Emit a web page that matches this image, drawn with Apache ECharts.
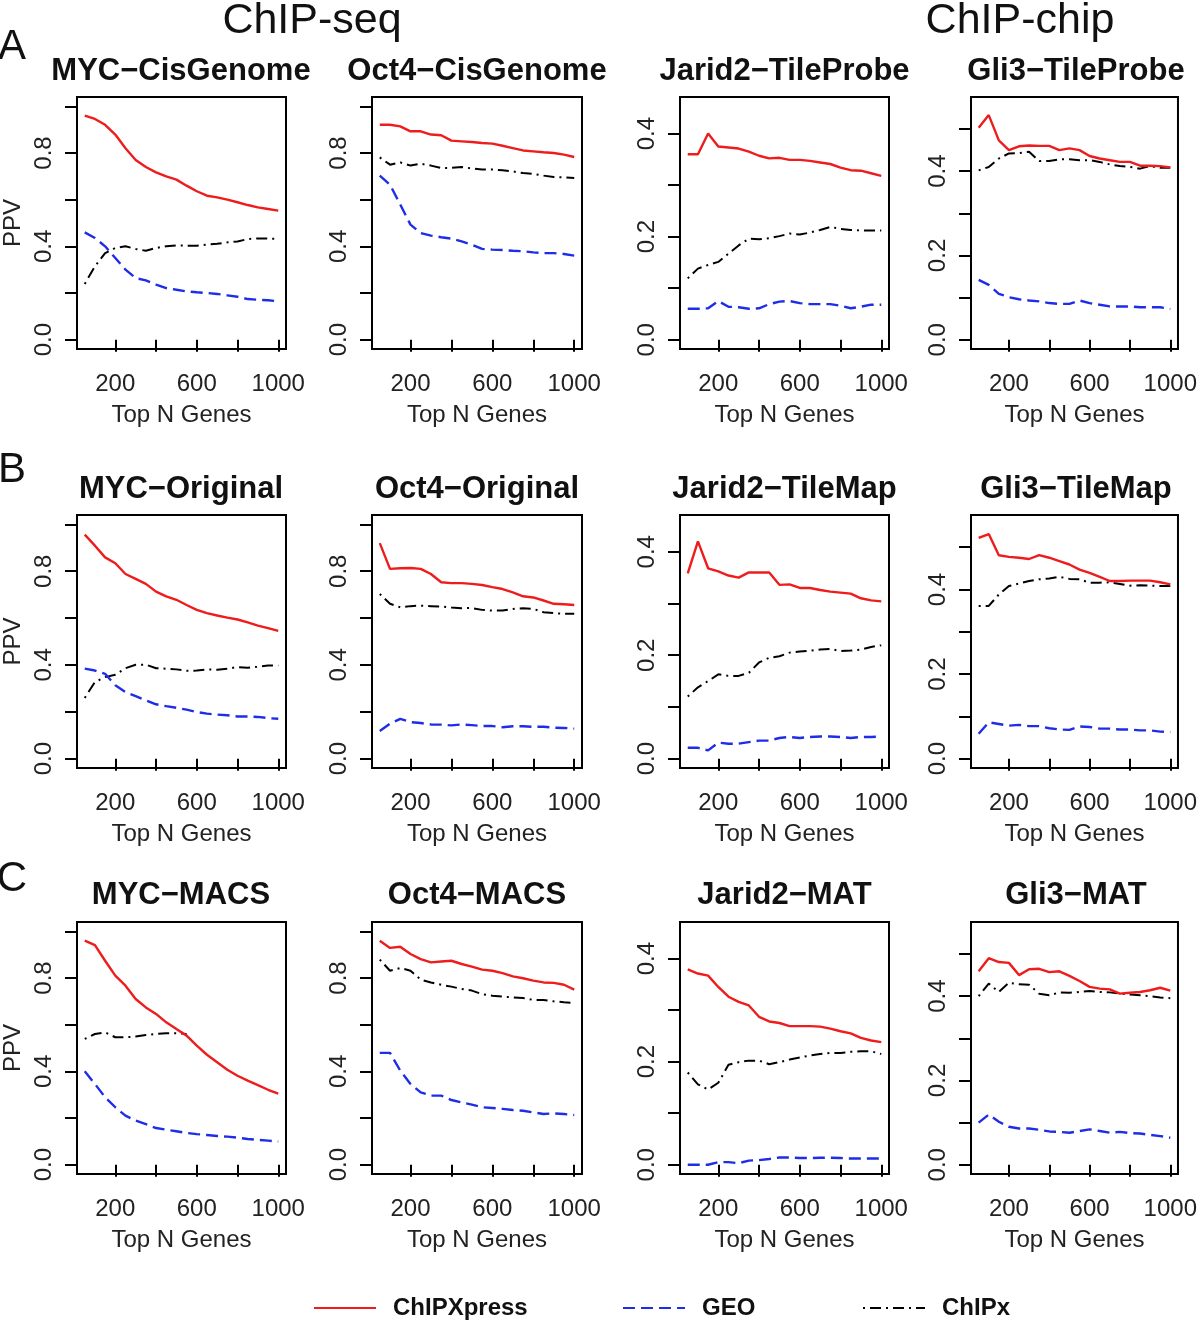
<!DOCTYPE html>
<html>
<head>
<meta charset="utf-8">
<script src="https://cdn.jsdelivr.net/npm/echarts@6/dist/echarts.min.js"></script>
<style>
html,body{margin:0;padding:0;background:#fff;}
#chart{width:1200px;height:1321px;}
</style>
</head>
<body>
<div id="chart"></div>
<script>
// ---------- DATA ----------
const topN = [50,100,150,200,250,300,350,400,450,500,550,600,650,700,750,800,850,900,950,1000];
const xTicks = [200,400,600,800,1000];
const xTickLabels = [200,600,1000];
const seriesNames = ['ChIPXpress','GEO','ChIPx'];
const panelTitles = [
  'MYC\u2212CisGenome','Oct4\u2212CisGenome','Jarid2\u2212TileProbe','Gli3\u2212TileProbe',
  'MYC\u2212Original','Oct4\u2212Original','Jarid2\u2212TileMap','Gli3\u2212TileMap',
  'MYC\u2212MACS','Oct4\u2212MACS','Jarid2\u2212MAT','Gli3\u2212MAT'
];
const rowLetters = ['A','B','C'];
const groupLabels = ['ChIP-seq','ChIP-chip'];

// Row A
const mycCisGenome_chipxpress = [0.96,0.946,0.921,0.879,0.82,0.77,0.74,0.717,0.70,0.686,0.66,0.636,0.617,0.61,0.60,0.589,0.577,0.567,0.56,0.553];
const mycCisGenome_geo        = [0.46,0.436,0.40,0.35,0.30,0.264,0.254,0.236,0.221,0.214,0.207,0.203,0.20,0.196,0.19,0.184,0.174,0.171,0.169,0.164];
const mycCisGenome_chipx      = [0.239,0.314,0.371,0.393,0.40,0.389,0.381,0.393,0.40,0.404,0.403,0.403,0.407,0.411,0.417,0.421,0.431,0.434,0.433,0.433];

const oct4CisGenome_chipxpress = [0.921,0.921,0.914,0.893,0.893,0.879,0.876,0.853,0.85,0.847,0.843,0.84,0.831,0.821,0.811,0.807,0.803,0.80,0.793,0.783];
const oct4CisGenome_geo        = [0.703,0.664,0.579,0.493,0.457,0.446,0.439,0.433,0.421,0.407,0.389,0.386,0.384,0.381,0.379,0.374,0.371,0.371,0.367,0.36];
const oct4CisGenome_chipx      = [0.781,0.75,0.76,0.746,0.754,0.746,0.736,0.736,0.74,0.734,0.729,0.729,0.726,0.721,0.714,0.71,0.703,0.697,0.696,0.693];

const jarid2TileProbe_chipxpress = [0.36,0.36,0.40,0.375,0.373,0.371,0.365,0.357,0.352,0.353,0.349,0.349,0.347,0.344,0.341,0.334,0.329,0.328,0.323,0.318];
const jarid2TileProbe_geo        = [0.06,0.06,0.061,0.075,0.064,0.063,0.06,0.061,0.069,0.074,0.075,0.071,0.069,0.069,0.069,0.066,0.061,0.064,0.068,0.068];
const jarid2TileProbe_chipx      = [0.119,0.138,0.145,0.151,0.167,0.183,0.196,0.195,0.197,0.201,0.206,0.204,0.208,0.213,0.219,0.215,0.213,0.212,0.212,0.212];

const gli3TileProbe_chipxpress = [0.503,0.533,0.473,0.45,0.459,0.461,0.46,0.46,0.45,0.454,0.45,0.436,0.43,0.426,0.422,0.422,0.413,0.413,0.412,0.409];
const gli3TileProbe_geo        = [0.142,0.13,0.109,0.101,0.096,0.093,0.091,0.087,0.085,0.085,0.093,0.087,0.083,0.079,0.079,0.079,0.077,0.077,0.077,0.073];
const gli3TileProbe_chipx      = [0.402,0.41,0.43,0.442,0.443,0.446,0.424,0.424,0.428,0.428,0.426,0.426,0.422,0.416,0.412,0.41,0.406,0.412,0.408,0.408];

// Row B
const mycOriginal_chipxpress = [0.956,0.909,0.859,0.834,0.788,0.767,0.746,0.713,0.693,0.678,0.656,0.635,0.621,0.611,0.602,0.594,0.582,0.568,0.557,0.545];
const mycOriginal_geo        = [0.384,0.376,0.362,0.313,0.284,0.267,0.249,0.232,0.224,0.217,0.209,0.199,0.192,0.188,0.185,0.18,0.18,0.178,0.173,0.17];
const mycOriginal_chipx      = [0.259,0.327,0.348,0.358,0.386,0.401,0.401,0.386,0.384,0.381,0.375,0.376,0.381,0.379,0.384,0.391,0.388,0.392,0.398,0.398];

const oct4Original_chipxpress = [0.92,0.81,0.8125,0.814,0.81,0.788,0.753,0.749,0.749,0.746,0.741,0.732,0.724,0.71,0.693,0.688,0.675,0.661,0.659,0.656];
const oct4Original_geo        = [0.118,0.149,0.17,0.156,0.152,0.146,0.145,0.142,0.146,0.143,0.139,0.139,0.134,0.138,0.138,0.136,0.136,0.132,0.131,0.128];
const oct4Original_chipx      = [0.703,0.661,0.646,0.651,0.653,0.651,0.649,0.645,0.642,0.643,0.635,0.632,0.632,0.639,0.642,0.639,0.625,0.621,0.618,0.618];

const jarid2TileMap_chipxpress = [0.358,0.42,0.368,0.362,0.354,0.35,0.36,0.36,0.36,0.336,0.337,0.33,0.33,0.326,0.323,0.321,0.319,0.31,0.306,0.304];
const jarid2TileMap_geo        = [0.021,0.021,0.016,0.031,0.029,0.029,0.032,0.035,0.035,0.04,0.042,0.04,0.042,0.043,0.043,0.042,0.04,0.042,0.042,0.043];
const jarid2TileMap_chipx      = [0.12,0.138,0.15,0.163,0.16,0.16,0.166,0.186,0.195,0.198,0.205,0.207,0.209,0.211,0.212,0.208,0.209,0.211,0.216,0.219];

const gli3TileMap_chipxpress = [0.522,0.531,0.481,0.477,0.475,0.472,0.481,0.475,0.467,0.459,0.447,0.439,0.43,0.42,0.42,0.421,0.421,0.421,0.417,0.412];
const gli3TileMap_geo        = [0.059,0.086,0.082,0.078,0.08,0.077,0.077,0.072,0.069,0.068,0.076,0.075,0.071,0.071,0.069,0.069,0.067,0.067,0.064,0.063];
const gli3TileMap_chipx      = [0.361,0.361,0.388,0.408,0.414,0.42,0.424,0.426,0.43,0.425,0.424,0.416,0.416,0.417,0.413,0.409,0.41,0.409,0.408,0.408];

// Row C
const mycMACS_chipxpress = [0.96,0.941,0.874,0.81,0.767,0.71,0.674,0.646,0.61,0.581,0.553,0.51,0.471,0.439,0.407,0.381,0.36,0.341,0.321,0.304];
const mycMACS_geo        = [0.40,0.346,0.289,0.246,0.21,0.189,0.174,0.157,0.15,0.143,0.136,0.131,0.127,0.123,0.12,0.116,0.11,0.106,0.103,0.099];
const mycMACS_chipx      = [0.539,0.56,0.567,0.546,0.546,0.549,0.556,0.56,0.563,0.563,0.56,null,null,null,null,null,null,null,null,null];

const oct4MACS_chipxpress = [0.96,0.929,0.934,0.903,0.881,0.867,0.871,0.874,0.86,0.849,0.836,0.831,0.821,0.807,0.799,0.789,0.781,0.779,0.771,0.75];
const oct4MACS_geo        = [0.479,0.479,0.403,0.346,0.31,0.296,0.296,0.277,0.267,0.257,0.246,0.243,0.239,0.234,0.231,0.224,0.217,0.22,0.217,0.213];
const oct4MACS_chipx      = [0.879,0.831,0.843,0.831,0.793,0.781,0.771,0.763,0.753,0.746,0.731,0.724,0.72,0.717,0.714,0.706,0.706,0.70,0.696,0.693];

const jarid2MAT_chipxpress = [0.379,0.371,0.367,0.345,0.326,0.316,0.309,0.287,0.278,0.275,0.269,0.269,0.269,0.268,0.264,0.259,0.255,0.246,0.241,0.238];
const jarid2MAT_geo        = [0.0,0.0,0.0,0.005,0.005,0.003,0.008,0.009,0.011,0.014,0.014,0.013,0.013,0.0135,0.0135,0.013,0.012,0.012,0.012,0.012];
const jarid2MAT_chipx      = [0.179,0.156,0.146,0.159,0.194,0.199,0.202,0.202,0.195,0.199,0.204,0.208,0.212,0.215,0.217,0.217,0.219,0.22,0.22,0.215];

const gli3MAT_chipxpress = [0.459,0.49,0.481,0.479,0.45,0.464,0.465,0.457,0.459,0.448,0.436,0.422,0.418,0.416,0.406,0.408,0.41,0.414,0.42,0.413];
const gli3MAT_geo        = [0.10,0.119,0.102,0.09,0.086,0.086,0.083,0.079,0.078,0.076,0.08,0.084,0.08,0.076,0.078,0.075,0.074,0.071,0.068,0.064];
const gli3MAT_chipx      = [0.40,0.43,0.41,0.432,0.428,0.427,0.406,0.402,0.409,0.408,0.41,0.412,0.41,0.409,0.406,0.404,0.402,0.40,0.397,0.395];

// y-axis tick sets
const yTicksPPV = [0,0.2,0.4,0.6,0.8,1.0];
const yLabelsPPV = [0,0.4,0.8];
const yTicksJarid2 = [0,0.1,0.2,0.3,0.4];
const yLabelsJarid2 = [0,0.2,0.4];
const yTicksGli3 = [0,0.1,0.2,0.3,0.4,0.5];
const yLabelsGli3 = [0,0.2,0.4];

// ---------- ASSEMBLY ----------
const panelData = [
  [mycCisGenome_chipxpress, mycCisGenome_geo, mycCisGenome_chipx],
  [oct4CisGenome_chipxpress, oct4CisGenome_geo, oct4CisGenome_chipx],
  [jarid2TileProbe_chipxpress, jarid2TileProbe_geo, jarid2TileProbe_chipx],
  [gli3TileProbe_chipxpress, gli3TileProbe_geo, gli3TileProbe_chipx],
  [mycOriginal_chipxpress, mycOriginal_geo, mycOriginal_chipx],
  [oct4Original_chipxpress, oct4Original_geo, oct4Original_chipx],
  [jarid2TileMap_chipxpress, jarid2TileMap_geo, jarid2TileMap_chipx],
  [gli3TileMap_chipxpress, gli3TileMap_geo, gli3TileMap_chipx],
  [mycMACS_chipxpress, mycMACS_geo, mycMACS_chipx],
  [oct4MACS_chipxpress, oct4MACS_geo, oct4MACS_chipx],
  [jarid2MAT_chipxpress, jarid2MAT_geo, jarid2MAT_chipx],
  [gli3MAT_chipxpress, gli3MAT_geo, gli3MAT_chipx]
];

const FONT = '"Liberation Sans", Arial, Helvetica, sans-serif';
const colLayout = [{left:76,width:210},{left:372,width:210},{left:680,width:209},{left:971,width:210}];
const rowLayout = [{top:97,height:252},{top:515,height:253},{top:922,height:252}];
const titleCenterY = [69,487,893];
const colYScale = [
  {min:-0.04,max:1.04,ticks:yTicksPPV,labels:yLabelsPPV},
  {min:-0.04,max:1.04,ticks:yTicksPPV,labels:yLabelsPPV},
  {min:-0.018,max:0.471,ticks:yTicksJarid2,labels:yLabelsJarid2},
  {min:-0.022,max:0.576,ticks:yTicksGli3,labels:yLabelsGli3}
];
const lineStyles = [
  {color:'#ee1c1c', width:2.4, type:'solid'},
  {color:'#1e2de6', width:2.4, type:[12,6]},
  {color:'#000000', width:2, type:[2,5,11,5]}
];

const grids = [], xAxes = [], yAxes = [], series = [], titles = [];
for (let p = 0; p < 12; p++) {
  const r = Math.floor(p/4), c = p % 4;
  grids.push({left:colLayout[c].left, width:colLayout[c].width, top:rowLayout[r].top, height:rowLayout[r].height,
    show:true, borderColor:'#000', borderWidth:2, backgroundColor:'transparent', containLabel:false});
  xAxes.push({type:'value', gridIndex:p, min:12, max:1038,
    name:'Top N Genes', nameLocation:'middle', nameGap:54,
    nameTextStyle:{fontFamily:FONT, fontSize:24, color:'#222'},
    axisLine:{show:false},
    axisTick:{show:true, inside:false, length:12, customValues:xTicks, lineStyle:{color:'#000', width:2}},
    axisLabel:{customValues:xTickLabels, margin:23, fontFamily:FONT, fontSize:24, color:'#222',
      formatter: v => String(Math.round(v))},
    splitLine:{show:false}});
  const ys = colYScale[c];
  yAxes.push({type:'value', gridIndex:p, min:ys.min, max:ys.max,
    name: c===0 ? 'PPV' : '', nameLocation:'middle', nameGap:52, nameRotate:90,
    nameTextStyle:{fontFamily:FONT, fontSize:24, color:'#222'},
    axisLine:{show:false},
    axisTick:{show:true, inside:false, length:12, customValues:ys.ticks, lineStyle:{color:'#000', width:2}},
    axisLabel:{customValues:ys.labels, rotate:90, margin:21, fontFamily:FONT, fontSize:24, color:'#222',
      formatter: v => Number(v).toFixed(1)},
    splitLine:{show:false}});
  for (let s = 0; s < 3; s++) {
    series.push({type:'line', name:seriesNames[s], xAxisIndex:p, yAxisIndex:p,
      data: topN.map((x,i) => [x, panelData[p][s][i]]),
      showSymbol:false, symbol:'none', connectNulls:false,
      lineStyle:lineStyles[s], itemStyle:{color:lineStyles[s].color},
      z: 3 - s, silent:true});
  }
  titles.push({text:panelTitles[p], left:colLayout[c].left + colLayout[c].width/2, top:titleCenterY[r]-13, textAlign:'center', padding:0,
    textStyle:{fontFamily:FONT, fontSize:31, fontWeight:'bold', color:'#111'}});
}
titles.push({text:groupLabels[0], left:312, top:0, textAlign:'center', padding:0, textStyle:{fontFamily:FONT, fontSize:43, fontWeight:'normal', color:'#111'}});
titles.push({text:groupLabels[1], left:1020, top:0, textAlign:'center', padding:0, textStyle:{fontFamily:FONT, fontSize:43, fontWeight:'normal', color:'#111'}});
const letterY = [26, 449, 858];
rowLetters.forEach((L,i) => titles.push({text:L, left:12, top:letterY[i], textAlign:'center', padding:0,
  textStyle:{fontFamily:FONT, fontSize:42, fontWeight:'normal', color:'#111'}}));

const legendLeft = [313, 622, 862];
const legends = seriesNames.map((n,i) => ({
  data:[n], left:legendLeft[i], top:1296, orient:'horizontal', itemWidth:62, itemHeight:14, padding:0,
  itemStyle:{opacity:0},
  textStyle:{fontFamily:FONT, fontSize:24, fontWeight:'bold', color:'#111', padding:[0,0,0,12]},
  selectedMode:false
}));

const chart = echarts.init(document.getElementById('chart'), null, {renderer:'canvas'});
chart.setOption({
  backgroundColor:'#fff',
  animation:false,
  title:titles,
  legend:legends,
  grid:grids,
  xAxis:xAxes,
  yAxis:yAxes,
  series:series
});
</script>
</body>
</html>
